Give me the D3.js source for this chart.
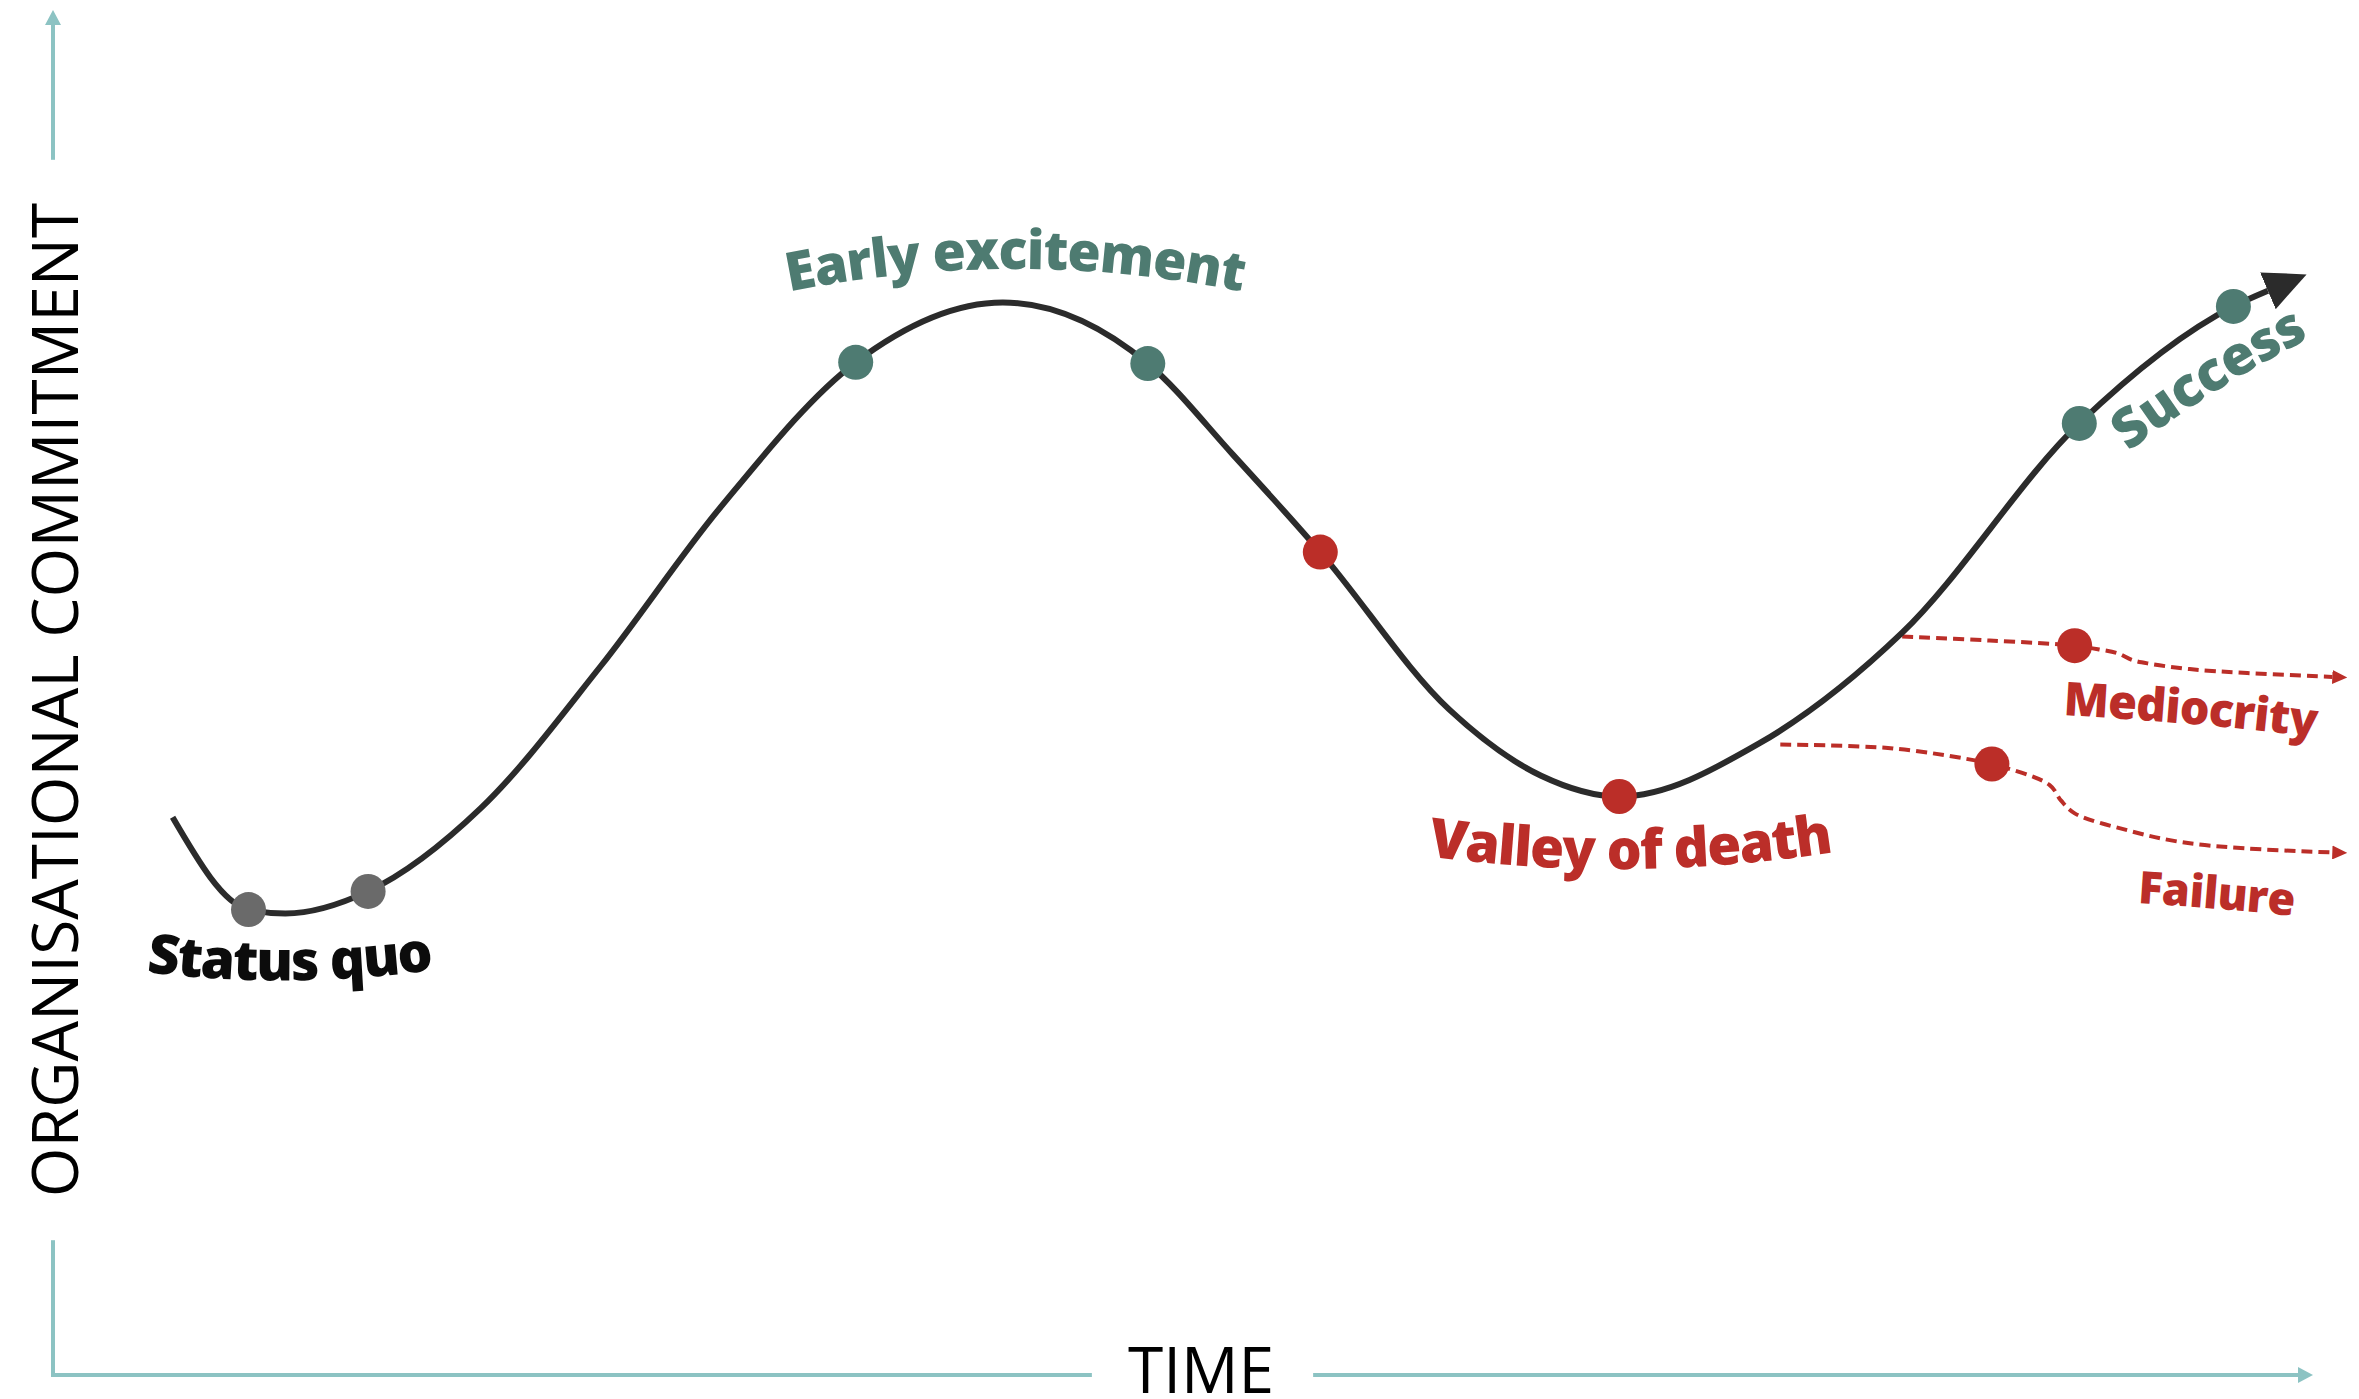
<!DOCTYPE html>
<html lang="en">
<head>
  <meta charset="UTF-8">
  <title>Change curve</title>
  <style>
    html, body { margin: 0; padding: 0; background: #fff; }
    svg { display: block; }
  </style>
</head>
<body>
  <svg id="svg" width="2359" height="1399"></svg>
  <script src="https://d3js.org/d3.v7.min.js"></script>
  <script>
    // main curve: time vs organisational commitment (0-100 units)
    const curveTime = [5.2, 8.5, 10.1, 13.7, 18.6, 23.8, 29.0, 34.9, 41.3, 47.6, 51.3, 55.1, 60.7, 64.7, 68.1, 74.2, 80.4, 88.1, 94.8, 96.3]
    const curveCommitment = [42.9, 35.8, 35.5, 37.2, 43.6, 54.5, 66.7, 77.9, 82.5, 77.8, 70.8, 63.3, 51.2, 46.1, 44.5, 48.6, 57.1, 73.2, 82.2, 83.4]

    // branches off the rising curve
    const mediocrityTime = [80.4, 84.2, 87.9, 89.0, 89.8, 90.4, 91.2, 92.9, 95.4, 99.1]
    const mediocrityCommitment = [56.8, 56.5, 56.1, 55.8, 55.5, 55.0, 54.7, 54.3, 54.0, 53.7]
    const failureTime = [75.1, 80.0, 83.5, 84.3, 86.8, 87.3, 87.9, 90.2, 92.5, 95.4, 99.1]
    const failureCommitment = [48.5, 48.2, 47.3, 47.0, 45.4, 44.2, 43.2, 41.9, 41.0, 40.5, 40.2]

    // milestone dots
    const dotTime = [8.5, 13.7, 34.9, 47.6, 55.1, 68.1, 88.1, 94.8, 87.9, 84.3]
    const dotCommitment = [35.8, 37.2, 77.9, 77.8, 63.3, 44.5, 73.2, 82.2, 56.1, 47.0]
    const dotStage = ['quo', 'quo', 'good', 'good', 'bad', 'bad', 'good', 'good', 'bad', 'bad']

    // labels
    const labelText = ['Status quo', 'Early excitement', 'Valley of death', 'Success', 'Mediocrity', 'Failure']
    const labelStage = ['quo', 'good', 'bad', 'good', 'bad', 'bad']

    const xTitle = 'TIME'
    const yTitle = 'ORGANISATIONAL COMMITMENT'

    const axisColor = '#8cc3c3'
    const stageColor = { quo: '#6a6a6a', good: '#4e7b72', bad: '#bb2e28' }
    const labelColor = { quo: '#0c0c0c', good: '#4e7b71', bad: '#bb2e29' }
    const font = "'Open Sans', 'Noto Sans', sans-serif"

    const x = d3.scaleLinear().domain([0, 100]).range([53, 2353])
    const y = d3.scaleLinear().domain([0, 100]).range([1375, 75])

    const svg = d3.select('#svg')
    const defs = svg.append('defs')

    // arrow markers (ref at the base, line ends at the base)
    function marker(id, w, h, color) {
      defs.append('marker')
        .attr('id', id)
        .attr('markerUnits', 'userSpaceOnUse')
        .attr('viewBox', `0 ${-h / 2} ${w} ${h}`)
        .attr('refX', 0)
        .attr('refY', 0)
        .attr('markerWidth', w)
        .attr('markerHeight', h)
        .attr('orient', 'auto')
        .append('path')
        .attr('d', `M0,${-h / 2}L${w},0L0,${h / 2}Z`)
        .attr('fill', color)
    }
    marker('axisArrow', 15, 16, axisColor)
    marker('curveArrow', 42, 40, '#2b2b2b')
    marker('redArrow', 15, 14, stageColor.bad)

    // axis titles
    const titleX = svg.append('text')
      .text(xTitle)
      .attr('x', 1201)
      .attr('y', 1393)
      .attr('text-anchor', 'middle')
      .attr('font-family', font)
      .attr('font-size', 64)
      .attr('fill', '#000')

    const titleY = svg.append('text')
      .text(yTitle)
      .attr('transform', 'translate(78, 700) rotate(-90)')
      .attr('text-anchor', 'middle')
      .attr('font-family', font)
      .attr('font-size', 64)
      .attr('fill', '#000')

    const bx = titleX.node().getBBox()
    const byLen = titleY.node().getComputedTextLength()

    // axes drawn in pieces around the titles
    const axisG = svg.append('g')
      .attr('stroke', axisColor)
      .attr('stroke-width', 4)
      .attr('fill', 'none')

    axisG.append('line')
      .attr('x1', x(0)).attr('y1', y(0))
      .attr('x2', x(0)).attr('y2', 700 + byLen / 2 + 43)
    axisG.append('line')
      .attr('x1', x(0)).attr('y1', 700 - byLen / 2 - 43)
      .attr('x2', x(0)).attr('y2', 10 + 15)
      .attr('marker-end', 'url(#axisArrow)')
    axisG.append('line')
      .attr('x1', x(0) - 2).attr('y1', y(0))
      .attr('x2', bx.x - 36).attr('y2', y(0))
    axisG.append('line')
      .attr('x1', bx.x + bx.width + 39).attr('y1', y(0))
      .attr('x2', 2313 - 15).attr('y2', y(0))
      .attr('marker-end', 'url(#axisArrow)')

    const zip = (a, b) => a.map((v, i) => [v, b[i]])

    // branches
    const branchLine = d3.line()
      .x(d => x(d[0]))
      .y(d => y(d[1]))
      .curve(d3.curveCatmullRom.alpha(0.5))

    svg.append('g')
      .selectAll('path')
      .data([zip(mediocrityTime, mediocrityCommitment), zip(failureTime, failureCommitment)])
      .enter()
      .append('path')
      .attr('d', branchLine)
      .attr('fill', 'none')
      .attr('stroke', stageColor.bad)
      .attr('stroke-width', 4)
      .attr('stroke-dasharray', '11 6')
      .attr('marker-end', 'url(#redArrow)')

    // main curve
    const mainLine = d3.line()
      .x(d => x(d[0]))
      .y(d => y(d[1]))
      .curve(d3.curveMonotoneX)

    svg.append('path')
      .datum(zip(curveTime, curveCommitment))
      .attr('d', mainLine)
      .attr('fill', 'none')
      .attr('stroke', '#2b2b2b')
      .attr('stroke-width', 6)
      .attr('marker-end', 'url(#curveArrow)')

    // dots
    svg.append('g')
      .selectAll('circle')
      .data(dotTime.map((t, i) => ({ t, c: dotCommitment[i], s: dotStage[i] })))
      .enter()
      .append('circle')
      .attr('cx', d => x(d.t))
      .attr('cy', d => y(d.c))
      .attr('r', 17.5)
      .attr('fill', d => stageColor[d.s])

    // curved labels: baseline arc [start, control, end], size, target width
    const labelLayout = [
      { arc: [[145, 972], [290, 990], [434, 970]], size: 58, w: 289 },
      { arc: [[787, 292], [1015, 246], [1243, 292]], size: 56, w: 456 },
      { arc: [[1425, 856], [1630, 884], [1835, 852]], size: 58, w: 408 },
      { arc: [[2128, 452], [2212, 388], [2310, 338]], size: 55, w: 214 },
      { arc: [[2062, 715], [2190, 722], [2316, 737]], size: 48, w: 254 },
      { arc: [[2137, 903], [2215, 908], [2294, 916]], size: 46, w: 157 }
    ]

    const labelG = svg.append('g')
    labelText.forEach((txt, i) => {
      const lay = labelLayout[i]
      const p = d3.path()
      p.moveTo(lay.arc[0][0], lay.arc[0][1])
      p.quadraticCurveTo(lay.arc[1][0], lay.arc[1][1], lay.arc[2][0], lay.arc[2][1])
      defs.append('path').attr('id', 'lp' + i).attr('d', p.toString())

      // measure natural width, shrink a little and fill the rest with spacing
      const tmp = svg.append('text')
        .text(txt)
        .attr('font-family', font)
        .attr('font-size', lay.size)
        .attr('font-weight', 800)
      const len = tmp.node().getComputedTextLength()
      tmp.remove()
      const size = len > lay.w ? lay.size * Math.sqrt(lay.w / len) : lay.size
      const ls = (lay.w - len * size / lay.size) / (txt.length - 1)

      labelG.append('text')
        .attr('font-family', font)
        .attr('font-size', size)
        .attr('font-weight', 800)
        .attr('letter-spacing', ls)
        .attr('fill', labelColor[labelStage[i]])
        .append('textPath')
        .attr('href', '#lp' + i)
        .attr('startOffset', '50%')
        .attr('text-anchor', 'middle')
        .text(txt)
    })
  </script>
</body>
</html>
